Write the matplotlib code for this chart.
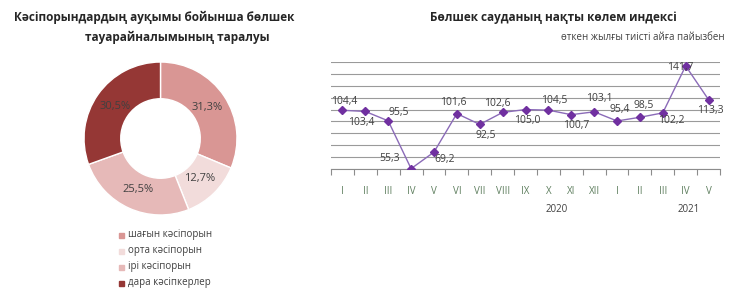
import matplotlib.pyplot as plt
import matplotlib.transforms as mtransforms
import numpy as np

plt.rcParams['font.family'] = ['Open Sans', 'DejaVu Sans']

# pie data
pie_labels = ["шағын кәсіпорын", "орта кәсіпорын", "ірі кәсіпорын", "дара кәсіпкерлер"]
pie_values = [31.3, 12.7, 25.5, 30.5]
pie_colors = ["#D99694", "#F2DCDB", "#E6B9B8", "#953735"]

# line data
months = ["I", "II", "III", "IV", "V", "VI", "VII", "VIII", "IX", "X", "XI", "XII",
          "I", "II", "III", "IV", "V"]
index_values = [104.4, 103.4, 95.5, 55.3, 69.2, 101.6, 92.5, 102.6, 105.0, 104.5,
                100.7, 103.1, 95.4, 98.5, 102.2, 141.7, 113.3]
years = ["2020", "2021"]

# label offsets in pixels (dx, dy)
label_offsets = [(2, 9), (-4, -11), (11, 8), (-21, 10), (11, -7), (-4, 11), (6, -11),
                 (-5, 9), (2, -11), (6, 10), (5, -11), (5, 13), (3, 11), (4, 12),
                 (8, -8), (-5, -2), (2, -11)]

fig = plt.figure(figsize=(7.5, 2.99), dpi=100)

# ---- donut ----
ax1 = fig.add_axes([(160.5 - 78) / 750, 1 - (138.5 + 78) / 299, 156 / 750, 156 / 299])
wedges, _ = ax1.pie(pie_values, colors=pie_colors, startangle=90, counterclock=False,
                    radius=1.0, wedgeprops=dict(width=0.48, edgecolor="white", linewidth=1))
ax1.set_aspect("equal")
for w, v in zip(wedges, pie_values):
    ang = np.deg2rad((w.theta1 + w.theta2) / 2)
    r = 0.73
    ax1.text(r * np.cos(ang), r * np.sin(ang), f"{v:.1f}".replace(".", ",") + "%",
             ha="center", va="center", fontsize=8, color="#404040")
ax1.set_xlim(-1.02, 1.02)
ax1.set_ylim(-1.02, 1.02)

fig.text(154 / 750, 1 - 17 / 299, "Кәсіпорындардың ауқымы бойынша бөлшек",
         ha="center", va="center", fontsize=8.5, fontweight="bold", color="#262626")
fig.text(177 / 750, 1 - 37 / 299, "тауарайналымының таралуы",
         ha="center", va="center", fontsize=8.5, fontweight="bold", color="#262626")

# legend
for i, (lab, col) in enumerate(zip(pie_labels, pie_colors)):
    y = 1 - (235 + i * 16) / 299
    fig.patches.append(plt.Rectangle((119 / 750, y - 2.5 / 299), 5 / 750, 5 / 299,
                                     transform=fig.transFigure, color=col, figure=fig))
    fig.text(128 / 750, y, lab, ha="left", va="center", fontsize=7, color="#404040")

# ---- line chart ----
ax2 = fig.add_axes([331 / 750, 1 - 169 / 299, (720 - 331) / 750, (169 - 62) / 299])
x = np.arange(len(index_values))
ax2.plot(x, index_values, color="#8B6BB8", linewidth=1, zorder=3)
ax2.plot(x, index_values, linestyle="none", marker="D", markersize=4.5,
         color="#7030A0", zorder=4)
for xi, v, (dx, dy) in zip(x, index_values, label_offsets):
    ax2.annotate(f"{v:.1f}".replace(".", ","), (xi, v), xytext=(dx, dy),
                 textcoords="offset pixels", ha="center", va="center",
                 fontsize=7.5, color="#404040", zorder=5)

ax2.set_xlim(-0.5, len(index_values) - 0.5)
ax2.set_ylim(55, 145)
ax2.set_yticks(np.arange(55, 146, 10))
ax2.yaxis.grid(True, color="#9A9A9A", linewidth=0.8)
ax2.tick_params(axis="y", left=False, labelleft=False)
for s in ["left", "right", "top"]:
    ax2.spines[s].set_visible(False)
ax2.spines["bottom"].set_color("#8C8C8C")
ax2.set_xticks(np.arange(-0.5, len(index_values), 1))
ax2.set_xticklabels([])
ax2.set_xticks(x, minor=True)
ax2.set_xticklabels(months, minor=True, fontsize=7, color="#5F7F5F")
ax2.tick_params(axis="x", which="major", direction="out", length=4, color="#8C8C8C")
ax2.tick_params(axis="x", which="minor", length=0, pad=12)
ax2.set_axisbelow(True)

trans = mtransforms.blended_transform_factory(ax2.transData, fig.transFigure)
ax2.text(9.37, 1 - 210 / 299, years[0], transform=trans, ha="center", va="center",
         fontsize=7, color="#404040")
ax2.text(15.13, 1 - 210 / 299, years[1], transform=trans, ha="center", va="center",
         fontsize=7, color="#404040")

fig.text(553 / 750, 1 - 17 / 299, "Бөлшек сауданың нақты көлем индексі",
         ha="center", va="center", fontsize=8.5, fontweight="bold", color="#262626")
fig.text(725 / 750, 1 - 37 / 299, "өткен жылғы тиісті айға пайызбен",
         ha="right", va="center", fontsize=7, color="#404040")

fig.savefig("out.png", dpi=100)
